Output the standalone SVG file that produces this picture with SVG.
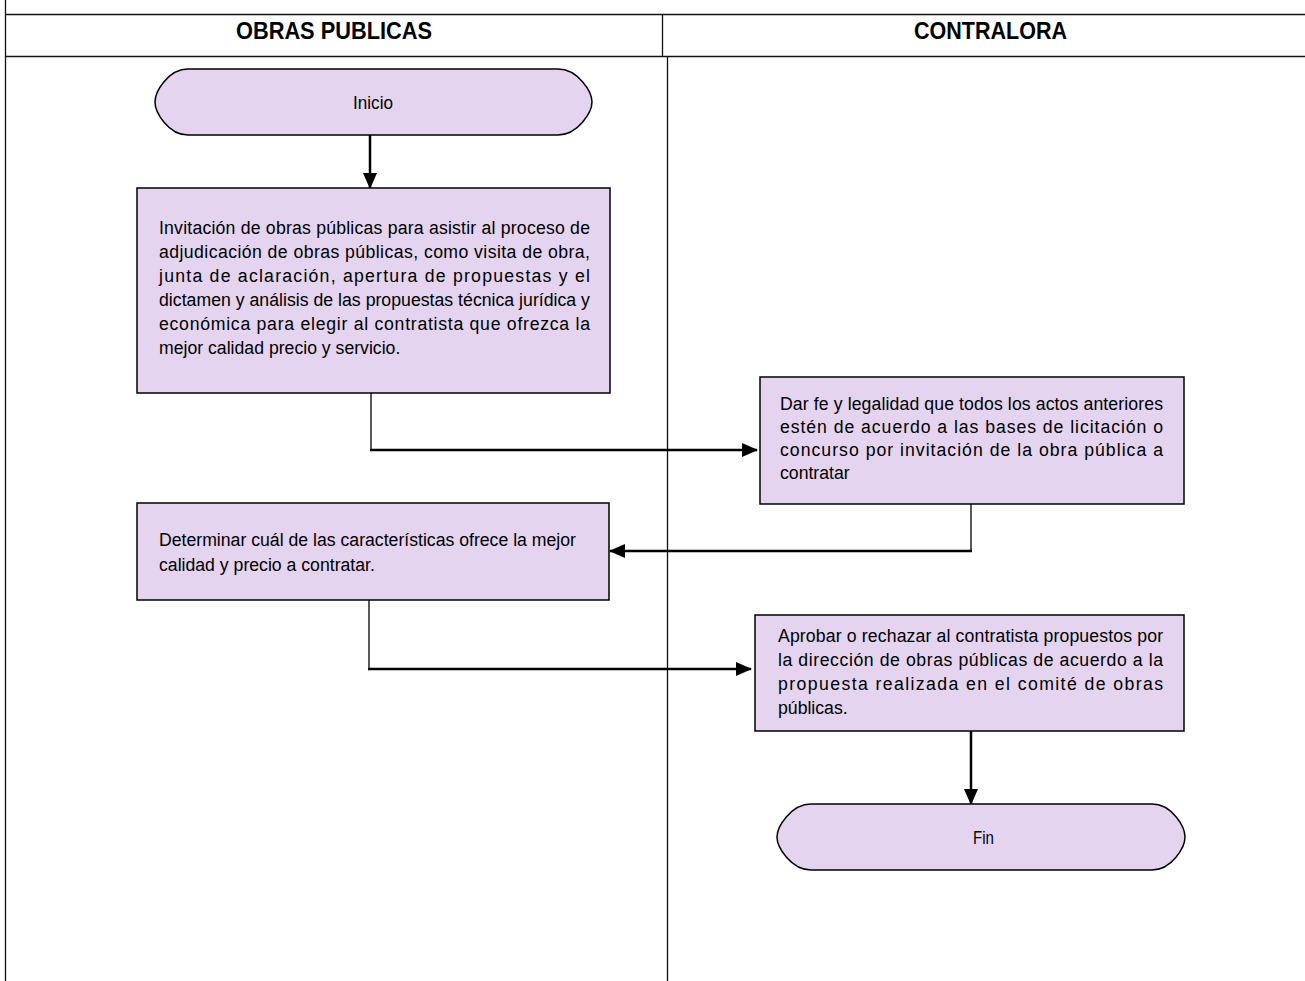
<svg xmlns="http://www.w3.org/2000/svg" width="1305" height="981" viewBox="0 0 1305 981">
<style>
.lane{stroke:#111;stroke-width:1.3;fill:none}
.hdr{font-family:"Liberation Sans",Arial,sans-serif;font-weight:bold;font-size:23px;fill:#000}
.box{fill:#E4D4F0;stroke:#000;stroke-width:1.5}
.t{font-family:"Liberation Sans",Arial,sans-serif;font-size:19px;fill:#000}
.thin{stroke:#000;stroke-width:1.3;fill:none}
.thick{stroke:#000;stroke-width:2.5;fill:none}
</style>
<defs>
<marker id="ah" markerUnits="userSpaceOnUse" markerWidth="16" markerHeight="14" refX="15" refY="7" orient="auto">
<path d="M0,0 L16,7 L0,14 Z" fill="#000"/>
</marker>
</defs>
<rect width="1305" height="981" fill="#fff"/>
<g id="lanes">
<line class="lane" x1="5.5" y1="0" x2="5.5" y2="981"/>
<line class="lane" x1="5" y1="14.5" x2="1305" y2="14.5"/>
<line class="lane" x1="5" y1="56.5" x2="1305" y2="56.5"/>
<line class="lane" x1="662.5" y1="14" x2="662.5" y2="57"/>
<line class="lane" x1="667.5" y1="57" x2="667.5" y2="981"/>
<text class="hdr" x="236" y="39" textLength="196" lengthAdjust="spacingAndGlyphs">OBRAS PUBLICAS</text>
<text class="hdr" x="914" y="39" textLength="153" lengthAdjust="spacingAndGlyphs">CONTRALORA</text>
</g>
<g id="connectors">
<line class="thick" x1="370" y1="135" x2="370" y2="188" marker-end="url(#ah)"/>
<polyline class="thin" points="371,393 371,450"/>
<line class="thick" x1="370" y1="450" x2="757" y2="450" marker-end="url(#ah)"/>
<polyline class="thin" points="971,504 971,551"/>
<line class="thick" x1="972" y1="551" x2="610" y2="551" marker-end="url(#ah)"/>
<polyline class="thin" points="369,600 369,669"/>
<line class="thick" x1="368" y1="669" x2="751" y2="669" marker-end="url(#ah)"/>
<line class="thick" x1="971" y1="731" x2="971" y2="804" marker-end="url(#ah)"/>
</g>
<g id="inicio">
<path class="box" d="M188,69 L558,69 C578,69 592,92 592,102 C592,112 578,135 558,135 L188,135 C168,135 155,112 155,102 C155,92 168,69 188,69 Z"/>
<text class="t" x="353" y="109" textLength="40" lengthAdjust="spacingAndGlyphs">Inicio</text>
</g>
<g id="invitacion">
<rect class="box" x="137" y="188" width="473" height="205"/>
<g transform="translate(159 0) scale(0.93 1)">
<text class="t" x="0" y="234" textLength="463.4" lengthAdjust="spacing">Invitación de obras públicas para asistir al proceso de</text>
<text class="t" x="0" y="258" textLength="463.4" lengthAdjust="spacing">adjudicación de obras públicas, como visita de obra,</text>
<text class="t" x="0" y="282" textLength="463.4" lengthAdjust="spacing">junta de aclaración, apertura de propuestas y el</text>
<text class="t" x="0" y="306" textLength="463.4" lengthAdjust="spacing">dictamen y análisis de las propuestas técnica jurídica y</text>
<text class="t" x="0" y="330" textLength="463.4" lengthAdjust="spacing">económica para elegir al contratista que ofrezca la</text>
<text class="t" x="0" y="354">mejor calidad precio y servicio.</text>
</g>
</g>
<g id="dar-fe">
<rect class="box" x="760" y="377" width="424" height="127"/>
<g transform="translate(780 0) scale(0.93 1)">
<text class="t" x="0" y="410" textLength="411.8" lengthAdjust="spacing">Dar fe y legalidad que todos los actos anteriores</text>
<text class="t" x="0" y="433" textLength="411.8" lengthAdjust="spacing">estén de acuerdo a las bases de licitación o</text>
<text class="t" x="0" y="456" textLength="411.8" lengthAdjust="spacing">concurso por invitación de la obra pública a</text>
<text class="t" x="0" y="479">contratar</text>
</g>
</g>
<g id="determinar">
<rect class="box" x="137" y="503" width="472" height="97"/>
<g transform="translate(159 0) scale(0.93 1)">
<text class="t" x="0" y="546">Determinar cuál de las características ofrece la mejor</text>
<text class="t" x="0" y="571">calidad y precio a contratar.</text>
</g>
</g>
<g id="aprobar">
<rect class="box" x="755" y="615" width="429" height="116"/>
<g transform="translate(778 0) scale(0.93 1)">
<text class="t" x="0" y="642" textLength="414" lengthAdjust="spacing">Aprobar o rechazar al contratista propuestos por</text>
<text class="t" x="0" y="666" textLength="414" lengthAdjust="spacing">la dirección de obras públicas de acuerdo a la</text>
<text class="t" x="0" y="690" textLength="414" lengthAdjust="spacing">propuesta realizada en el comité de obras</text>
<text class="t" x="0" y="714">públicas.</text>
</g>
</g>
<g id="fin">
<path class="box" d="M811,804 L1152,804 C1172,804 1185,827 1185,837 C1185,847 1172,870 1152,870 L811,870 C791,870 777,847 777,837 C777,827 791,804 811,804 Z"/>
<text class="t" x="973" y="844" textLength="21" lengthAdjust="spacingAndGlyphs">Fin</text>
</g>
</svg>
